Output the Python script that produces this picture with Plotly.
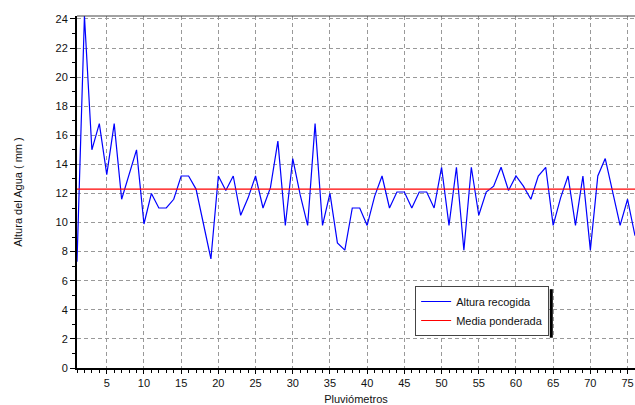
import plotly.graph_objects as go

pluviometros = list(range(1, 77))
altura_recogida = [
    7.3, 24.2, 15.0, 16.8, 13.3, 16.8, 11.6, 13.3, 15.0, 9.9,
    12.0, 11.0, 11.0, 11.6, 13.2, 13.2, 12.3, 9.9, 7.5, 13.2,
    12.2, 13.2, 10.5, 11.7, 13.2, 11.0, 12.4, 15.6, 9.8, 14.4,
    11.9, 9.8, 16.8, 9.8, 12.0, 8.6, 8.1, 11.0, 11.0, 9.8,
    11.8, 13.2, 11.0, 12.1, 12.1, 11.0, 12.1, 12.1, 11.0, 13.8,
    9.8, 13.8, 8.1, 13.8, 10.5, 12.1, 12.5, 13.8, 12.2, 13.2,
    12.5, 11.6, 13.2, 13.8, 9.8, 11.7, 13.2, 9.8, 13.2, 8.1,
    13.2, 14.4, 12.1, 9.8, 11.6, 9.1,
]
media_ponderada = 12.3

x_ticks = list(range(5, 80, 5))
y_ticks = list(range(0, 26, 2))

FONT = "Liberation Sans, Arial, sans-serif"

fig = go.Figure()
fig.add_trace(go.Scatter(
    x=pluviometros, y=altura_recogida, mode="lines",
    name="Altura recogida", line=dict(color="#0000FF", width=1.2),
))
fig.add_trace(go.Scatter(
    x=[pluviometros[0], pluviometros[-1]], y=[media_ponderada, media_ponderada],
    mode="lines", name="Media ponderada", line=dict(color="#FF0000", width=1.2),
))

grid_dash = "4px,3px"
fig.update_xaxes(
    range=[pluviometros[0], pluviometros[-1]],
    tickvals=x_ticks, ticks="outside", ticklen=4, tickcolor="#000",
    minor=dict(ticks="outside", dtick=1, ticklen=3, tickcolor="#000", showgrid=False),
    showline=True, linecolor="#000", linewidth=2,
    showgrid=True, gridcolor="#999999", gridwidth=1, griddash=grid_dash,
    zeroline=False,
    tickfont=dict(family=FONT, size=11, color="#111"),
    title=dict(text="Pluviómetros", font=dict(family=FONT, size=11, color="#111"), standoff=11),
)
fig.update_yaxes(
    range=[0, 24.2],
    tickvals=y_ticks, ticks="outside", ticklen=5, tickcolor="#000",
    minor=dict(ticks="outside", dtick=1, ticklen=3, tickcolor="#000", showgrid=False),
    showline=True, linecolor="#000", linewidth=2,
    showgrid=True, gridcolor="#999999", gridwidth=1, griddash=grid_dash,
    zeroline=False,
    tickfont=dict(family=FONT, size=11, color="#111"),
    title=dict(text="Altura del Agua ( mm )", font=dict(family=FONT, size=11, color="#111"), standoff=31),
)

# top frame line
fig.add_shape(type="line", xref="paper", yref="paper", x0=0, x1=1, y0=1, y1=1,
              line=dict(color="#444444", width=1))
# legend drop shadow on the right side
fig.add_shape(type="line", xref="paper", yref="paper", x0=0.850, x1=0.850, y0=0.086, y1=0.224,
              line=dict(color="#000000", width=3))

fig.update_layout(
    width=635, height=405,
    margin=dict(l=77, r=0, t=16, b=37, autoexpand=False),
    plot_bgcolor="white", paper_bgcolor="white",
    showlegend=True,
    legend=dict(
        x=0.606, y=0.233, xanchor="left", yanchor="top",
        bgcolor="white", bordercolor="#444444", borderwidth=1,
        font=dict(family=FONT, size=11, color="#111"),
        tracegroupgap=0, itemwidth=30,
    ),
)

fig.write_html(
    "out.html",
    config={"displayModeBar": False},
    post_script="document.body.style.margin='0';document.body.style.overflow='hidden';",
)
